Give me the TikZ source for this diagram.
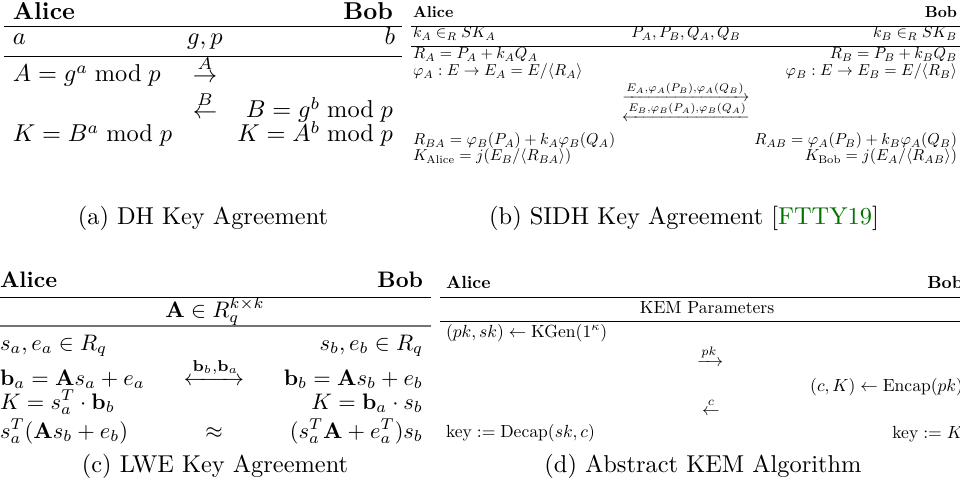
\documentclass[tikz,border=0pt]{standalone}
\usepackage{amsmath,mathtools}
\usepackage{graphicx}
\usepackage{xcolor}
\definecolor{citegreen}{rgb}{0,0.45,0}
\newcommand{\Bx}[1]{\scalebox{0.65}{#1}}
\newcommand{\Cx}[1]{\scalebox{0.92}{#1}}
\newcommand{\Dx}[1]{\scalebox{0.72}{#1}}
\begin{document}
\begin{tikzpicture}[x=0.41pt,y=-0.41pt,
  every node/.style={inner sep=0pt,outer sep=0pt},
  rule/.style={line width=0.4pt},
  softrule/.style={line width=0.8pt,black!55},
  ta/.style={font=\normalsize},
  captext/.style={font=\normalsize}]
\useasboundingbox (0,0) rectangle (960,496);
\clip (0,0) rectangle (960,496);

% ---------------- (a) DH ----------------
\node[ta,anchor=base west] (aalice) at (13,20) {\textbf{Alice}};
\node[ta,anchor=base east] (abob) at (393,20) {\textbf{Bob}};
\draw[rule] (4,26) -- (402,26);
\node[ta,anchor=base west] (aa) at (13,45) {$a$};
\node[ta,anchor=base] (agp) at (205,45) {$g,p$};
\node[ta,anchor=base east] (ab) at (395,45) {$b$};
\draw[rule] (4,56) -- (402,56);
\node[ta,anchor=base west] (aA) at (13,82) {$A = g^a \bmod p$};
\node[ta,anchor=base] (aarr1) at (205,83) {$\stackrel{A}{\rightarrow}$};
\node[ta,anchor=base] (aarr2) at (205,119) {$\stackrel{B}{\leftarrow}$};
\node[ta,anchor=base east] (aB) at (393,118) {$B = g^b \bmod p$};
\node[ta,anchor=base west] (aK1) at (13,142) {$K = B^a \bmod p$};
\node[ta,anchor=base east] (aK2) at (393,142) {$K = A^b \bmod p$};
\node[captext,anchor=base] (acap) at (203,224) {(a) DH Key Agreement};

% ---------------- (b) SIDH ----------------
\node[anchor=base west] (balice) at (413,18) {\Bx{\textbf{Alice}}};
\node[anchor=base east] (bbob) at (957,18) {\Bx{\textbf{Bob}}};
\draw[rule] (411,26) -- (960,26);
\node[anchor=base west] (bkA) at (413,38) {\Bx{$k_A \in_R SK_A$}};
\node[anchor=base] (bpar) at (686,38) {\Bx{$P_A,P_B,Q_A,Q_B$}};
\node[anchor=base east] (bkB) at (957,38) {\Bx{$k_B \in_R SK_B$}};
\draw[rule] (411,46) -- (960,46);
\node[anchor=base west] (bRA) at (413,59) {\Bx{$R_A = P_A + k_A Q_A$}};
\node[anchor=base east] (bRB) at (957,59) {\Bx{$R_B = P_B + k_B Q_B$}};
\node[anchor=base west] (bphiA) at (413,76) {\Bx{$\varphi_A : E \rightarrow E_A = E/\langle R_A\rangle$}};
\node[anchor=base east] (bphiB) at (957,76) {\Bx{$\varphi_B : E \rightarrow E_B = E/\langle R_B\rangle$}};
\node[anchor=base] (barr1) at (686,102) {\Bx{$\xrightarrow{E_A,\varphi_A(P_B),\varphi_A(Q_B)}$}};
\node[anchor=base] (barr2) at (686,122) {\Bx{$\xleftarrow{E_B,\varphi_B(P_A),\varphi_B(Q_A)}$}};
\node[anchor=base west] (bRBA) at (413,145) {\Bx{$R_{BA} = \varphi_B(P_A) + k_A\varphi_B(Q_A)$}};
\node[anchor=base east] (bRAB) at (957,145) {\Bx{$R_{AB} = \varphi_A(P_B) + k_B\varphi_A(Q_B)$}};
\node[anchor=base west] (bKA) at (413,161) {\Bx{$K_{\text{Alice}} = j(E_B/\langle R_{BA}\rangle)$}};
\node[anchor=base east] (bKB) at (957,161) {\Bx{$K_{\text{Bob}} = j(E_A/\langle R_{AB}\rangle)$}};
\node[captext,anchor=base] (bcap) at (684,224) {(b) SIDH Key Agreement [\textcolor{citegreen}{FTTY19}]};

% ---------------- (c) LWE ----------------
\node[anchor=base west] (calice) at (0,287) {\Cx{\textbf{Alice}}};
\node[anchor=base east] (cbob) at (423,287) {\Cx{\textbf{Bob}}};
\draw[rule] (0,297) -- (431,297);
\node[anchor=base] (cpar) at (215,317) {\Cx{$\mathbf{A} \in R_q^{k\times k}$}};
\draw[softrule] (0,326) -- (431,326);
\node[anchor=base west] (csa) at (0,350) {\Cx{$s_a, e_a \in R_q$}};
\node[anchor=base east] (csb) at (423,350) {\Cx{$s_b, e_b \in R_q$}};
\node[anchor=base west] (cba) at (0,385) {\Cx{$\mathbf{b}_a = \mathbf{A}s_a + e_a$}};
\node[anchor=base] (carr) at (214,385) {\Cx{$\xleftrightarrow{\mathbf{b}_b,\mathbf{b}_a}$}};
\node[anchor=base east] (cbb) at (423,385) {\Cx{$\mathbf{b}_b = \mathbf{A}s_b + e_b$}};
\node[anchor=base west] (cK1) at (0,409) {\Cx{$K = s_a^T \cdot \mathbf{b}_b$}};
\node[anchor=base east] (cK2) at (423,409) {\Cx{$K = \mathbf{b}_a \cdot s_b$}};
\node[anchor=base west] (ce1) at (0,438) {\Cx{$s_a^T(\mathbf{A}s_b + e_b)$}};
\node[anchor=base] (capx) at (214,438) {\Cx{$\approx$}};
\node[anchor=base east] (ce2) at (423,438) {\Cx{$(s_a^T\mathbf{A} + e_a^T)s_b$}};
\node[captext,anchor=base] (ccap) at (215,472) {(c) LWE Key Agreement};

% ---------------- (d) KEM ----------------
\node[anchor=base west] (dalice) at (446,288) {\Dx{\textbf{Alice}}};
\node[anchor=base east] (dbob) at (963,288) {\Dx{\textbf{Bob}}};
\draw[rule] (440,297) -- (975,297);
\node[anchor=base] (dpar) at (707,313) {\Dx{KEM Parameters}};
\draw[rule] (440,321) -- (975,321);
\node[anchor=base west] (dkg) at (446,337) {\Dx{$(pk,sk) \leftarrow \mathrm{KGen}(1^\kappa)$}};
\node[anchor=base] (darr1) at (710,366) {\Dx{$\xrightarrow{pk}$}};
\node[anchor=base east] (denc) at (963,391) {\Dx{$(c,K) \leftarrow \mathrm{Encap}(pk)$}};
\node[anchor=base] (darr2) at (711,415) {\Dx{$\stackrel{c}{\leftarrow}$}};
\node[anchor=base west] (ddec) at (446,437) {\Dx{$\mathrm{key} := \mathrm{Decap}(sk,c)$}};
\node[anchor=base east] (dkey) at (963,438) {\Dx{$\mathrm{key} := K$}};
\node[captext,anchor=base] (dcap) at (703,472) {(d) Abstract KEM Algorithm};
\end{tikzpicture}
\end{document}
